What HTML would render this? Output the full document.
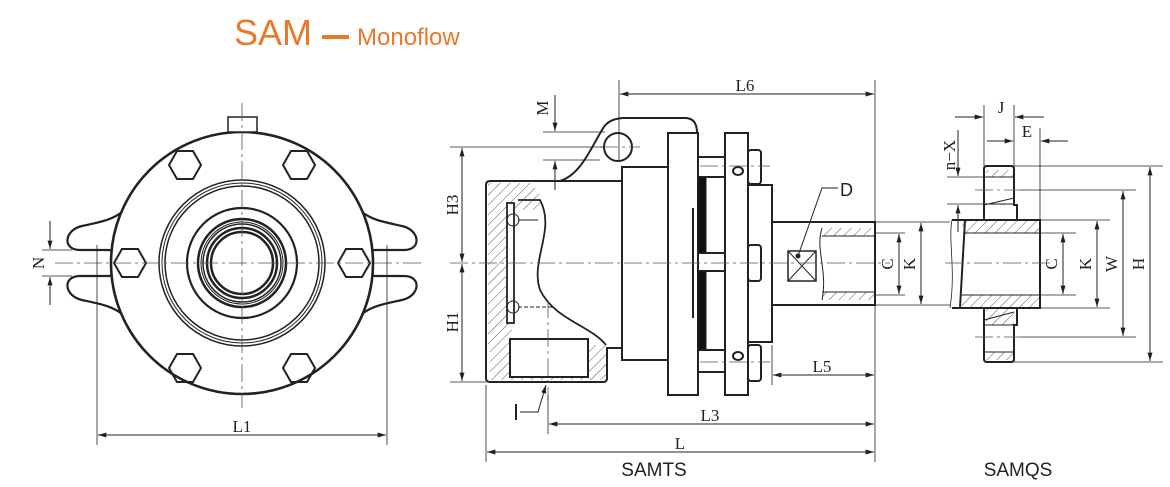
<!DOCTYPE html>
<html><head><meta charset="utf-8"><style>
html,body{margin:0;padding:0;background:#fff;}
svg{display:block;}
.t{font-family:"Liberation Serif",serif;font-size:17px;fill:#222;}
.s{font-family:"Liberation Sans",sans-serif;}
</style></head><body>
<svg width="1170" height="487" viewBox="0 0 1170 487" xmlns="http://www.w3.org/2000/svg">
<defs>
<pattern id="h" width="7" height="7" patternUnits="userSpaceOnUse" patternTransform="rotate(45)">
<line x1="0" y1="0" x2="0" y2="7" stroke="#333" stroke-width="0.8"/></pattern>
<marker id="a" viewBox="0 0 10 6" refX="10" refY="3" markerWidth="12" markerHeight="5" orient="auto-start-reverse" markerUnits="userSpaceOnUse">
<path d="M0,0 L10,3 L0,6 z" fill="#222"/></marker>
</defs>
<text x="234" y="45" class="s" font-size="36" fill="#e8782a">SAM</text>
<rect x="322" y="35" width="27" height="4" fill="#e8782a"/>
<text x="357" y="45" class="s" font-size="24" fill="#e8782a">Monoflow</text>

<g fill="none" stroke="#222" stroke-width="1">
<!-- LEFT VIEW -->
<g stroke-width="2.2">
<path d="M122,212 C112,220 100,222 82,226 C64,230 62,250 80,250 L108,250 C118,250 120,258 113,263 C120,268 118,276 108,276 L80,276 C62,276 64,296 82,300 C100,304 112,306 122,314"/>
<path d="M362,212 C372,220 384,222 402,226 C420,230 422,250 404,250 L376,250 C366,250 364,258 371,263 C364,268 366,276 376,276 L404,276 C422,276 420,296 402,300 C384,304 372,306 362,314"/>
<circle cx="242" cy="263" r="131" fill="#fff" stroke-width="2.6"/>
<rect x="228" y="117" width="29" height="15" fill="#fff" stroke-width="1.5"/>
<circle cx="242" cy="263" r="55" stroke-width="2.2"/>
<circle cx="242" cy="263" r="44" stroke-width="2.5"/>
<circle cx="242" cy="263" r="39" stroke-width="1.5"/>
<circle cx="242" cy="263" r="35" stroke-width="2.5"/>
<circle cx="242" cy="263" r="31" stroke-width="2.5"/>
</g>
<circle cx="242" cy="263" r="83" stroke-width="1.5"/>
<circle cx="242" cy="263" r="80" stroke-width="1"/>
<circle cx="242" cy="263" r="77" stroke-width="1.5"/>
<circle cx="242" cy="263" r="41" stroke-width="1"/>
<g stroke-width="2">
<polygon points="177,151 193,151 201,165 193,179 177,179 169,165"/>
<polygon points="291,151 307,151 315,165 307,179 291,179 283,165"/>
<polygon points="177,354 193,354 201,368 193,382 177,382 169,368"/>
<polygon points="291,354 307,354 315,368 307,382 291,382 283,368"/>
<polygon points="122,249 138,249 146,263 138,277 122,277 114,263"/>
<polygon points="346,249 362,249 370,263 362,277 346,277 338,263"/>
</g>
<g stroke="#555" stroke-dasharray="18,4,3,4" stroke-width="0.8">
<line x1="55" y1="263" x2="422" y2="263"/>
<line x1="242" y1="103" x2="242" y2="408"/>
</g>
<line x1="97" y1="245" x2="97" y2="445" stroke-width="0.8"/>
<line x1="387" y1="245" x2="387" y2="445" stroke-width="0.8"/>
<line x1="98" y1="435" x2="386" y2="435" marker-start="url(#a)" marker-end="url(#a)"/>
<line x1="42" y1="250" x2="72" y2="250" stroke-width="0.8"/>
<line x1="42" y1="276" x2="72" y2="276" stroke-width="0.8"/>
<line x1="50" y1="221" x2="50" y2="249" marker-end="url(#a)"/>
<line x1="50" y1="305" x2="50" y2="277" marker-end="url(#a)"/>

<!-- MIDDLE VIEW -->
<g stroke-width="2">
<path d="M486,185 Q486,181 490,181 L622,181" />
<path d="M486,185 L486,378 Q486,382 490,382 L603,382 Q607,382 607,378 L607,348 L622,348"/>
<path d="M560,181 C580,175 590,150 602,130 Q608,118 625,118 L685,118 Q697,118 697,133"/>
<circle cx="618" cy="147" r="14"/>
<rect x="622" y="167" width="46" height="193" fill="#fff"/>
<rect x="668" y="133" width="30" height="262" fill="#fff"/>
<rect x="725" y="133" width="23" height="262" fill="#fff"/>
<rect x="698" y="157" width="27" height="20"/>
<rect x="698" y="350" width="27" height="22"/>
<rect x="698" y="253" width="27" height="18"/>
<rect x="748" y="185" width="24" height="157" fill="#fff"/>
<rect x="772" y="222" width="103" height="83" fill="#fff"/>
<rect x="748" y="150" width="13" height="34" rx="3"/>
<rect x="748" y="245" width="13" height="36" rx="3"/>
<rect x="748" y="345" width="13" height="36" rx="3"/>
<ellipse cx="738" cy="171" rx="5" ry="4"/>
<ellipse cx="738" cy="356" rx="5" ry="4"/>
</g>
<rect x="698" y="177" width="8" height="76" fill="#111"/>
<rect x="698" y="271" width="8" height="79" fill="#111"/>
<line x1="693" y1="208" x2="693" y2="318" stroke-width="2"/>
<line x1="706" y1="177" x2="725" y2="177"/>
<line x1="706" y1="350" x2="725" y2="350"/>
<path d="M488,183 L530,183 Q545,195 540,210 L512,210 L512,345 L488,345 z" fill="url(#h)" stroke="none"/>
<path d="M490,345 L606,345 L606,380 L490,380 z" fill="url(#h)" stroke="none"/>
<rect x="510" y="339" width="78" height="38" fill="#fff" stroke-width="2"/>
<path d="M518,200 L540,200 C556,230 530,260 540,290 C555,320 590,325 606,345" stroke-width="1.8"/>
<rect x="507" y="203" width="7" height="120" fill="#fff" stroke-width="1.8"/>
<circle cx="513" cy="220" r="6"/>
<circle cx="513" cy="307" r="6"/>
<line x1="518" y1="220" x2="538" y2="220"/><line x1="518" y1="307" x2="553" y2="307" stroke-dasharray="4,2"/>
<rect x="822" y="228" width="52" height="8" fill="url(#h)" stroke="none"/>
<rect x="822" y="292" width="52" height="8" fill="url(#h)" stroke="none"/>
<path d="M822,236 L874,236 M822,292 L874,292 M822,228 C815,250 828,270 822,300"/>
<rect x="788" y="251" width="28" height="30" stroke-width="1.5"/>
<path d="M788,251 L816,281 M816,251 L788,281"/>
<circle cx="798" cy="256" r="2" fill="#222"/>
<path d="M798,256 L822,188 L838,188"/>
<text x="840" y="196" class="s" font-size="18" fill="#222" stroke="none">D</text>
<g stroke="#555" stroke-dasharray="18,4,3,4" stroke-width="0.8">
<line x1="450" y1="263" x2="890" y2="263"/>
<line x1="548" y1="300" x2="548" y2="400"/>
<line x1="600" y1="147" x2="640" y2="147"/>
<line x1="700" y1="166" x2="770" y2="166"/><line x1="700" y1="362" x2="770" y2="362"/>
</g>
<g stroke-width="0.8">
<line x1="619" y1="80" x2="619" y2="160"/>
<line x1="875" y1="80" x2="875" y2="462"/>
<line x1="486" y1="385" x2="486" y2="462"/>
<line x1="772" y1="345" x2="772" y2="385"/>
<line x1="548" y1="395" x2="548" y2="434"/>
<line x1="450" y1="147" x2="605" y2="147"/>
<line x1="450" y1="382" x2="486" y2="382"/>
<line x1="543" y1="132" x2="605" y2="132"/>
<line x1="543" y1="160" x2="600" y2="160"/>
</g>
<line x1="620" y1="94" x2="874" y2="94" marker-start="url(#a)" marker-end="url(#a)"/>
<line x1="462" y1="148" x2="462" y2="262" marker-start="url(#a)" marker-end="url(#a)"/>
<line x1="462" y1="264" x2="462" y2="381" marker-start="url(#a)" marker-end="url(#a)"/>
<line x1="555" y1="95" x2="555" y2="131" marker-end="url(#a)"/>
<line x1="555" y1="190" x2="555" y2="161" marker-end="url(#a)"/>
<line x1="773" y1="375" x2="874" y2="375" marker-start="url(#a)" marker-end="url(#a)"/>
<line x1="549" y1="424" x2="874" y2="424" marker-start="url(#a)" marker-end="url(#a)"/>
<line x1="487" y1="452" x2="874" y2="452" marker-start="url(#a)" marker-end="url(#a)"/>
<path d="M520,412 L538,412 L546,385" marker-end="url(#a)"/>
<line x1="516" y1="404" x2="516" y2="420" stroke-width="2"/>
<g stroke-width="0.8">
<line x1="876" y1="222" x2="950" y2="222"/><line x1="876" y1="305" x2="950" y2="305"/>
<line x1="876" y1="233" x2="905" y2="233"/><line x1="876" y1="295" x2="905" y2="295"/>
</g>
<line x1="899" y1="234" x2="899" y2="294" marker-start="url(#a)" marker-end="url(#a)"/>
<line x1="921" y1="223" x2="921" y2="304" marker-start="url(#a)" marker-end="url(#a)"/>

<!-- RIGHT VIEW -->
<path d="M986,170 L1014,170 L1014,205 L986,205 z M986,308 L1014,308 L1014,360 L986,360 z" fill="url(#h)" stroke="none"/>
<rect x="986" y="177" width="28" height="27" fill="#fff" stroke="none"/>
<rect x="986" y="325" width="28" height="27" fill="#fff" stroke="none"/>
<path d="M962,220 L1040,220 L1040,233 L962,233 z M962,295 L1040,295 L1040,308 L962,308 z" fill="url(#h)" stroke="none"/>
<g stroke-width="2">
<path d="M984,220 L984,169 Q984,166 987,166 L1011,166 Q1014,166 1014,169 L1014,205 L1017,205 L1017,220"/>
<path d="M984,308 L984,359 Q984,362 987,362 L1011,362 Q1014,362 1014,359 L1014,325 L1017,325 L1017,308"/>
<path d="M952,220 L1040,220 L1040,308 L952,308"/>
<path d="M965,220 L960,308"/>
</g>
<path d="M965,233 L1040,233 M962,295 L1040,295 M984,205 L1014,198 M984,320 L1014,312 M984,177 L1014,177 M984,204 L1014,204 M984,325 L1014,325 M984,352 L1014,352"/>
<path d="M952,220 C948,240 956,270 950,308" stroke-width="0.8"/>
<g stroke="#555" stroke-dasharray="18,4,3,4" stroke-width="0.8">
<line x1="945" y1="263" x2="1050" y2="263"/>
<line x1="975" y1="190" x2="1020" y2="190"/><line x1="975" y1="337" x2="1020" y2="337"/>
</g>
<g stroke-width="0.8">
<line x1="984" y1="105" x2="984" y2="166"/>
<line x1="1014" y1="105" x2="1014" y2="166"/>
<line x1="1040" y1="128" x2="1040" y2="220"/>
<line x1="1014" y1="166" x2="1163" y2="166"/>
<line x1="1020" y1="190" x2="1136" y2="190"/>
<line x1="1040" y1="220" x2="1110" y2="220"/>
<line x1="1040" y1="233" x2="1076" y2="233"/>
<line x1="1040" y1="295" x2="1076" y2="295"/>
<line x1="1040" y1="308" x2="1110" y2="308"/>
<line x1="1020" y1="337" x2="1136" y2="337"/>
<line x1="1014" y1="362" x2="1163" y2="362"/>
<line x1="947" y1="177" x2="984" y2="177"/>
<line x1="947" y1="204" x2="984" y2="204"/>
</g>
<line x1="955" y1="117" x2="983" y2="117" marker-end="url(#a)"/>
<line x1="1044" y1="117" x2="1015" y2="117" marker-end="url(#a)"/>
<line x1="987" y1="141" x2="1013" y2="141" marker-end="url(#a)"/>
<line x1="1068" y1="141" x2="1041" y2="141" marker-end="url(#a)"/>
<line x1="958" y1="130" x2="958" y2="176" marker-end="url(#a)"/>
<line x1="958" y1="232" x2="958" y2="205" marker-end="url(#a)"/>
<line x1="1063" y1="234" x2="1063" y2="294" marker-start="url(#a)" marker-end="url(#a)"/>
<line x1="1097" y1="221" x2="1097" y2="307" marker-start="url(#a)" marker-end="url(#a)"/>
<line x1="1123" y1="191" x2="1123" y2="336" marker-start="url(#a)" marker-end="url(#a)"/>
<line x1="1150" y1="167" x2="1150" y2="361" marker-start="url(#a)" marker-end="url(#a)"/>
</g>

<text x="242" y="432" class="t" text-anchor="middle">L1</text>
<text x="745" y="91" class="t" text-anchor="middle">L6</text>
<text x="710" y="421" class="t" text-anchor="middle">L3</text>
<text x="680" y="449" class="t" text-anchor="middle">L</text>
<text x="822" y="372" class="t" text-anchor="middle">L5</text>
<text x="1001" y="113" class="t" text-anchor="middle">J</text>
<text x="1027" y="137" class="t" text-anchor="middle">E</text>
<g class="t">
<text transform="translate(44,263) rotate(-90)" text-anchor="middle">N</text>
<text transform="translate(458,205) rotate(-90)" text-anchor="middle">H3</text>
<text transform="translate(458,322) rotate(-90)" text-anchor="middle">H1</text>
<text transform="translate(548,108) rotate(-90)" text-anchor="middle">M</text>
<text transform="translate(893,264) rotate(-90)" text-anchor="middle">C</text>
<text transform="translate(915,264) rotate(-90)" text-anchor="middle">K</text>
<text transform="translate(955,155) rotate(-90)" text-anchor="middle">n−X</text>
<text transform="translate(1057,264) rotate(-90)" text-anchor="middle">C</text>
<text transform="translate(1091,264) rotate(-90)" text-anchor="middle">K</text>
<text transform="translate(1117,264) rotate(-90)" text-anchor="middle">W</text>
<text transform="translate(1144,264) rotate(-90)" text-anchor="middle">H</text>
</g>
<text x="654" y="476" class="s" font-size="19" fill="#222" text-anchor="middle">SAMTS</text>
<text x="1018" y="476" class="s" font-size="19" fill="#222" text-anchor="middle">SAMQS</text>
</svg>
</body></html>
